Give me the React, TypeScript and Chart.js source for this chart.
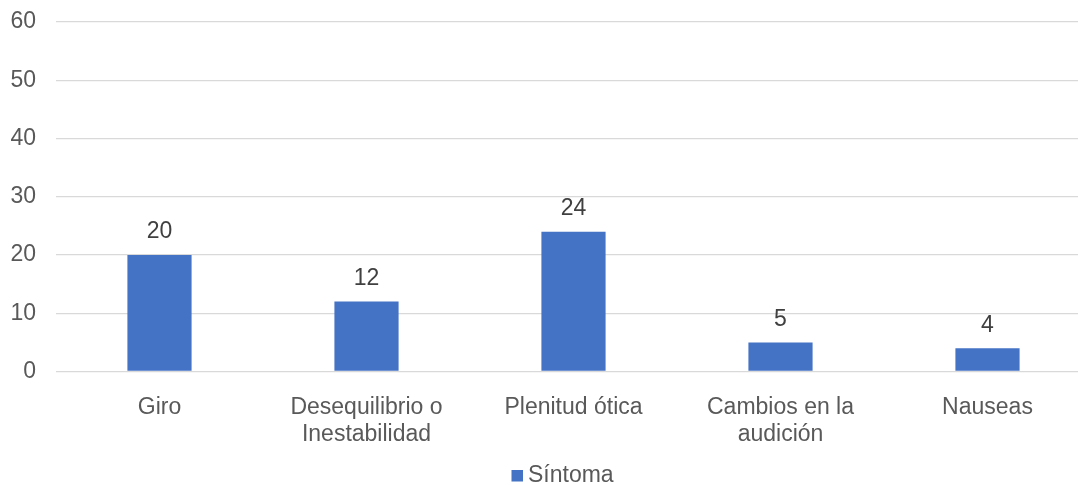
import React, { useEffect, useRef } from "react";
import { Chart, registerables } from "chart.js";

Chart.register(...registerables);

// Symptom categories and their counts
const categories: (string | string[])[] = [
  "Giro",
  ["Desequilibrio o", "Inestabilidad"],
  "Plenitud ótica",
  ["Cambios en la", "audición"],
  "Nauseas",
];
const seriesLabel = "Síntoma";
const seriesValues = [20, 12, 24, 5, 4];
const yTicks = [0, 10, 20, 30, 40, 50, 60];

const FONT = '"Liberation Sans", Arial, Helvetica, sans-serif';
const FONT_SIZE = 23;
const BAR_COLOR = "#4472C4";

// Writes each bar's value above it
const valueLabels = {
  id: "valueLabels",
  afterDatasetsDraw(chart: any) {
    const ctx = chart.ctx;
    const meta = chart.getDatasetMeta(0);
    const data = chart.data.datasets[0].data as number[];
    ctx.save();
    ctx.font = `${FONT_SIZE}px ${FONT}`;
    ctx.fillStyle = "#404040";
    ctx.textAlign = "center";
    ctx.textBaseline = "middle";
    meta.data.forEach((bar: any, i: number) => {
      ctx.fillText(String(data[i]), bar.x, bar.y - 23);
    });
    ctx.restore();
  },
};

// Single-entry legend below the axis labels
const bottomLegend = {
  id: "bottomLegend",
  afterDraw(chart: any) {
    const ctx = chart.ctx;
    const ds = chart.data.datasets[0];
    ctx.save();
    ctx.fillStyle = ds.backgroundColor;
    ctx.fillRect(511.5, 470, 11.5, 11.5);
    ctx.font = `${FONT_SIZE}px ${FONT}`;
    ctx.fillStyle = "#595959";
    ctx.textAlign = "left";
    ctx.textBaseline = "middle";
    ctx.fillText(ds.label, 528, 476);
    ctx.restore();
  },
};

export default function App() {
  const canvasRef = useRef<HTMLCanvasElement | null>(null);

  useEffect(() => {
    document.body.style.overflow = "hidden";
    const canvas = canvasRef.current;
    if (!canvas) return;
    const chart = new Chart(canvas, {
      type: "bar",
      data: {
        labels: categories,
        datasets: [
          {
            label: seriesLabel,
            data: seriesValues,
            backgroundColor: BAR_COLOR,
            borderWidth: 0,
            categoryPercentage: 1,
            barPercentage: 0.31,
          },
        ],
      },
      options: {
        animation: false,
        responsive: true,
        maintainAspectRatio: false,
        layout: { padding: { top: 22, left: 0, right: 0, bottom: 0 } },
        plugins: {
          legend: { display: false },
          tooltip: { enabled: false },
        },
        scales: {
          x: {
            grid: { display: false },
            border: { display: false },
            ticks: {
              color: "#595959",
              font: { family: FONT, size: FONT_SIZE, lineHeight: 1.174 },
              padding: 15,
              maxRotation: 0,
              autoSkip: false,
            },
            afterFit(scale: any) {
              scale.height = 113.5;
            },
          },
          y: {
            min: 0,
            max: 60,
            afterBuildTicks(scale: any) {
              scale.ticks = yTicks.map((v) => ({ value: v }));
            },
            grid: {
              color: "#D9D9D9",
              lineWidth: 1.3,
              drawTicks: false,
            },
            border: { display: false },
            ticks: {
              color: "#595959",
              font: { family: FONT, size: FONT_SIZE },
              padding: 20,
            },
            afterFit(scale: any) {
              scale.width = 56;
              scale.paddingTop = 0;
              scale.paddingBottom = 0;
            },
          },
        },
      },
      plugins: [valueLabels, bottomLegend],
    });
    return () => chart.destroy();
  }, []);

  return (
    <div
      style={{
        position: "absolute",
        left: 0,
        top: 0,
        width: 1091,
        height: 485,
        background: "#fff",
      }}
    >
      <canvas ref={canvasRef} />
    </div>
  );
}
